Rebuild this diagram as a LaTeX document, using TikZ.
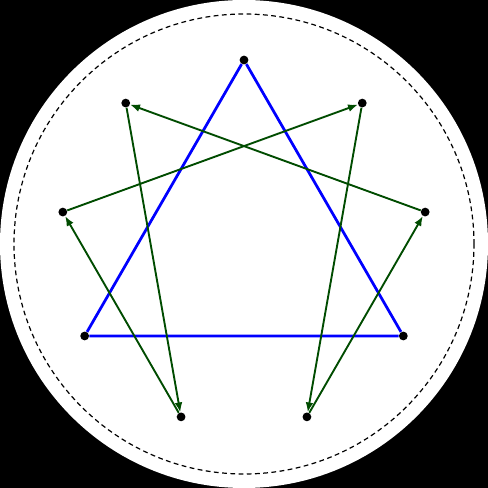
\documentclass[tikz,border=0pt]{standalone}
\usepackage{tikz}
\usetikzlibrary{arrows.meta}
\tikzset{pt/.style={circle,fill=black,inner sep=0pt,minimum size=0.18cm}}
\tikzset{tri/.style={draw=blue,line width=1.6pt}}
\tikzset{hex/.style={draw=green!30!black,line width=1.1pt,-{Latex[length=0.2cm,width=0.16cm]}}}

\begin{document}
\begin{tikzpicture}
	\fill[black] (-5, -5) rectangle (5, 5);
	\fill[white] (0, 0) circle (5);
	\draw [dashed, dash pattern=on 2.8pt off 2pt, line width=0.7pt] (0, 0) circle (4.713);
	\node[pt] (9) at (90:3.77) {};
	\node[pt] (1) at (50:3.77) {};
	\node[pt] (2) at (10:3.77) {};
	\node[pt] (3) at (-30:3.77) {};
	\node[pt] (4) at (-70:3.77) {};
	\node[pt] (5) at (-110:3.77) {};
	\node[pt] (6) at (-150:3.77) {};
	\node[pt] (7) at (170:3.77) {};
	\node[pt] (8) at (130:3.77) {};
	\draw [tri] (9) -- (3) -- (6) -- (9);
	\draw [hex] (1) to (4);
	\draw [hex] (4) to (2);
	\draw [hex] (2) to (8);
	\draw [hex] (8) to (5);
	\draw [hex] (5) to (7);
	\draw [hex] (7) to (1);
\end{tikzpicture}
\end{document}
